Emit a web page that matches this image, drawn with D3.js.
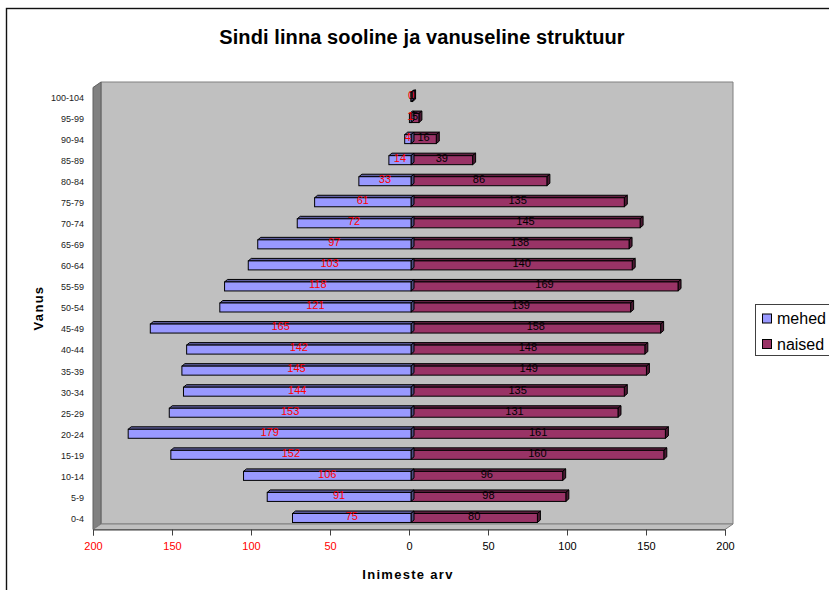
<!DOCTYPE html>
<html><head><meta charset="utf-8">
<script src="https://cdn.jsdelivr.net/npm/d3@7"></script>
<style>html,body{margin:0;padding:0;background:#fff}svg{display:block}text{font-family:"Liberation Sans",Arial,sans-serif}</style>
</head><body><svg id="c" width="829" height="590"></svg>
<script>
const ageGroups=["0-4","5-9","10-14","15-19","20-24","25-29","30-34","35-39","40-44","45-49","50-54","55-59","60-64","65-69","70-74","75-79","80-84","85-89","90-94","95-99","100-104"];
const mehed=[75,91,106,152,179,153,144,145,142,165,121,118,103,97,72,61,33,14,4,1,0];
const naised=[80,98,96,160,161,131,135,149,148,158,139,169,140,138,145,135,86,39,16,5,1];
const tickValues=[-200,-150,-100,-50,0,50,100,150,200];
const seriesNames=["mehed","naised"];
const colors={mehed:"#9999ff",naised:"#993366"};
const dark={mehed:"#5f5f9f",naised:"#5f2040"};
const darker={mehed:"#4c4c80",naised:"#4c1933"};
const svg=d3.select("#c");
svg.append("rect").attr("x",6.5).attr("y",8.5).attr("width",840).attr("height",600).attr("fill","#fff").attr("stroke","#111").attr("stroke-width",1.4);
const x=d3.scaleLinear().domain([-200,200]).range([93,725]);
const y=d3.scaleBand().domain(ageGroups).range([529.5,87.5]).paddingInner(0);
const dx=8,dy=5.5;
const L=x(-200),R=x(200),T=y.range()[1],B=y.range()[0];
const poly=(pts,f,s)=>svg.append("polygon").attr("points",pts.map(p=>p.join(",")).join(" ")).attr("fill",f).attr("stroke",s).attr("stroke-width",1);
poly([[L+dx,T-dy],[R+dx,T-dy],[R+dx,B-dy],[L+dx,B-dy]],"#c0c0c0","#808080");
poly([[L,T],[L+dx,T-dy],[L+dx,B-dy],[L,B]],"#808080","#606060");
poly([[L,B],[L+dx,B-dy],[R+dx,B-dy],[R,B]],"#c0c0c0","#808080");
const bdx=3,bdy=2.5,zero=x(0)+2;
const sc=v=>x(v)-x(0);
const barCy=a=>y(a)+y.bandwidth()/2-1;
function bar(a,val,name){
  const h=9, top=barCy(a)-h/2, sgn=name==="mehed"?-1:1;
  const x0=zero, x1=zero+sgn*sc(val), l=Math.min(x0,x1), r=Math.max(x0,x1);
  const g=svg.append("g");
  const s="#000";
  g.append("polygon").attr("points",`${l},${top} ${l+bdx},${top-bdy} ${r+bdx},${top-bdy} ${r},${top}`).attr("fill",dark[name]).attr("stroke",s);
  g.append("polygon").attr("points",`${r},${top} ${r+bdx},${top-bdy} ${r+bdx},${top+h-bdy} ${r},${top+h}`).attr("fill",darker[name]).attr("stroke",s);
  g.append("rect").attr("x",l).attr("y",top).attr("width",r-l).attr("height",h).attr("fill",colors[name]).attr("stroke",s);
}
ageGroups.forEach((a,i)=>{bar(a,naised[i],"naised");bar(a,mehed[i],"mehed");});
ageGroups.forEach((a,i)=>{
  const cy=barCy(a);
  [[mehed[i],-1,"#ff0000"],[naised[i],1,"#000"]].forEach(([v,sg,col])=>{
    svg.append("text").attr("x",zero+sg*sc(v)/2).attr("y",cy-2).attr("dy","0.35em").attr("text-anchor","middle").attr("font-size",11).attr("fill",col).text(v);
  });
});
const ax=d3.axisBottom(x).tickValues(tickValues).tickSize(6).tickPadding(7).tickFormat(d=>Math.abs(d));
const gx=svg.append("g").attr("transform",`translate(0,${B})`).call(ax);
gx.select(".domain").attr("stroke","#404040");
gx.selectAll(".tick line").attr("stroke","#404040");
gx.selectAll("text").attr("font-size",11).attr("font-family","Liberation Sans").attr("fill",d=>d<0?"#ff0000":"#000");
const ay=d3.axisLeft(y).tickSize(0).tickPadding(9);
const gy=svg.append("g").attr("transform",`translate(${L},0)`).call(ay);
gy.select(".domain").remove();
gy.selectAll("text").attr("font-size",9).attr("font-family","Liberation Sans").attr("fill","#222");
svg.append("text").attr("x",422).attr("y",44).attr("text-anchor","middle").attr("font-size",20).attr("font-weight","bold").attr("letter-spacing",0.1).text("Sindi linna sooline ja vanuseline struktuur");
svg.append("text").attr("x",408).attr("y",579).attr("text-anchor","middle").attr("font-size",13).attr("font-weight","bold").attr("letter-spacing",1.3).text("Inimeste arv");
svg.append("text").attr("transform","translate(42.5,308) rotate(-90)").attr("text-anchor","middle").attr("font-size",13).attr("font-weight","bold").attr("letter-spacing",1.3).text("Vanus");
svg.append("rect").attr("x",755.5).attr("y",304.5).attr("width",90).attr("height",51).attr("fill","#fff").attr("stroke","#404040");
seriesNames.forEach((n,i)=>{
  const yy=318.5+i*25.5;
  svg.append("rect").attr("x",762.5).attr("y",yy-4.5).attr("width",9).attr("height",9).attr("fill",colors[n]).attr("stroke","#000");
  svg.append("text").attr("x",777).attr("y",yy).attr("dy","0.35em").attr("font-size",16).text(n);
});
</script></body></html>
